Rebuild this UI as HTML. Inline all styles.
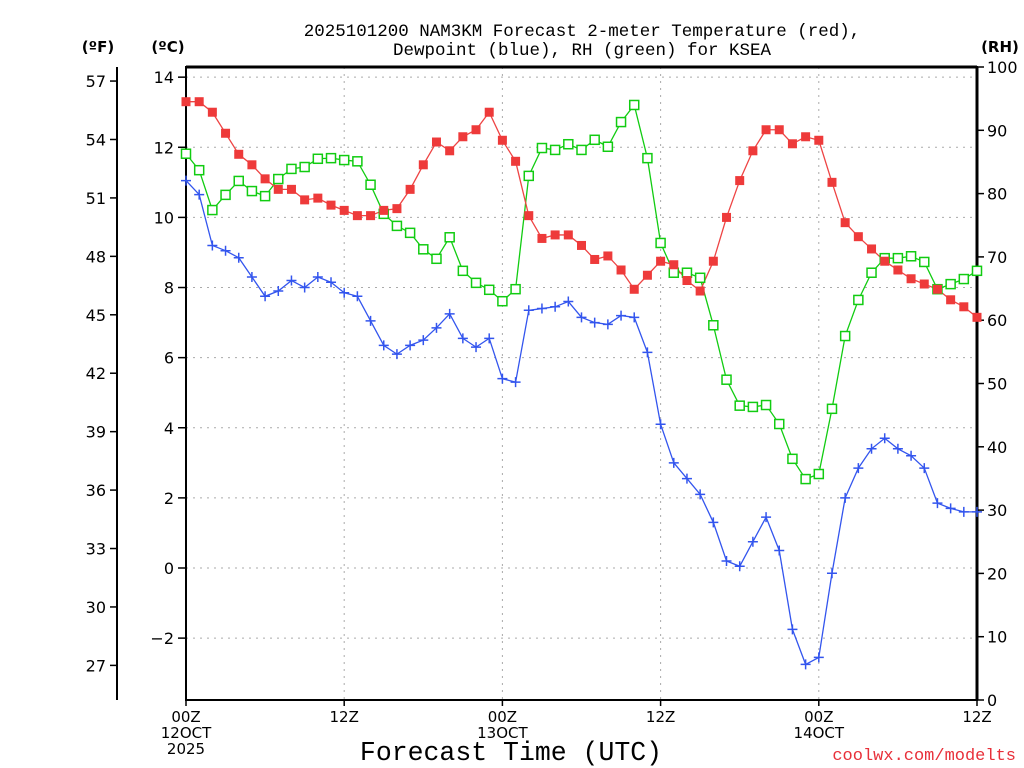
<!DOCTYPE html>
<html><head><meta charset="utf-8"><style>
body{margin:0;background:#fff;}
svg{display:block;font-family:"DejaVu Sans","Liberation Sans",sans-serif;}
.mono{font-family:"Liberation Mono","DejaVu Sans Mono",monospace;}
</style></head><body>
<svg id="chart" width="1024" height="768" viewBox="0 0 1024 768">
<g>
<text class="mono" x="582" y="36" text-anchor="middle" font-size="17.5">2025101200 NAM3KM Forecast 2-meter Temperature (red),</text>
<text class="mono" x="582" y="55" text-anchor="middle" font-size="17.5">Dewpoint (blue), RH (green) for KSEA</text>
</g>
<text x="98" y="52" text-anchor="middle" font-size="15" font-weight="bold">(ºF)</text>
<text x="168" y="52" text-anchor="middle" font-size="15" font-weight="bold">(ºC)</text>
<text x="1000" y="52" text-anchor="middle" font-size="15" font-weight="bold">(RH)</text>
<g id="grid"></g>
<g id="axes"></g>
<g id="series"></g>
<text class="mono" x="511" y="760" text-anchor="middle" font-size="26.5">Forecast Time (UTC)</text>
<text class="mono" x="1016" y="760" text-anchor="end" font-size="17" fill="#e8303a">coolwx.com/modelts</text>
</svg>
<script>
const hours = Array.from({length:61},(_,i)=>i);
const tempC = [13.3,13.3,13.0,12.4,11.8,11.5,11.1,10.8,10.8,10.5,10.55,10.35,10.2,10.05,10.05,10.2,10.25,10.8,11.5,12.15,11.9,12.3,12.5,13.0,12.2,11.6,10.05,9.4,9.5,9.5,9.2,8.8,8.9,8.5,7.95,8.35,8.75,8.65,8.2,7.9,8.75,10.0,11.05,11.9,12.5,12.5,12.1,12.3,12.2,11.0,9.85,9.45,9.1,8.75,8.5,8.25,8.1,7.95,7.65,7.45,7.15];
const dewC = [11.05,10.65,9.2,9.05,8.85,8.3,7.75,7.9,8.2,8.0,8.3,8.15,7.85,7.75,7.05,6.35,6.1,6.35,6.5,6.85,7.25,6.55,6.3,6.55,5.4,5.3,7.35,7.4,7.45,7.6,7.15,7.0,6.95,7.2,7.15,6.15,4.1,3.0,2.55,2.1,1.3,0.2,0.05,0.75,1.45,0.5,-1.75,-2.75,-2.55,-0.15,2.0,2.85,3.4,3.7,3.4,3.2,2.85,1.85,1.7,1.6,1.6];
const rh = [86.3,83.7,77.4,79.8,82,80.4,79.6,82.3,83.9,84.2,85.5,85.6,85.3,85.1,81.4,76.8,74.9,73.8,71.2,69.7,73.1,67.8,65.9,64.8,63.0,64.9,82.8,87.2,86.9,87.8,86.9,88.5,87.4,91.3,94.0,85.6,72.2,67.5,67.5,66.7,59.2,50.6,46.5,46.3,46.6,43.6,38.1,34.9,35.7,46.0,57.5,63.2,67.5,69.8,69.8,70.1,69.2,64.9,65.7,66.5,67.8];
const cTicks = [-2,0,2,4,6,8,10,12,14];
const fTicks = [27,30,33,36,39,42,45,48,51,54,57];
const rhTicks = [0,10,20,30,40,50,60,70,80,90,100];
const xTickHours = [0,12,24,36,48,60];
const xTickLabels = [["00Z","12OCT","2025"],["12Z"],["00Z","13OCT"],["12Z"],["00Z","14OCT"],["12Z"]];

const X0=186,X1=977,Y0=67,Y1=700;
const xs=h=>X0+(X1-X0)*h/60;
const yc=c=>568-35.06*c;
const yf=f=>yc((f-32)*5/9);
const yr=r=>Y1-(Y1-Y0)*r/100;
const NS="http://www.w3.org/2000/svg";
function mk(tag,attrs,parent){const e=document.createElementNS(NS,tag);for(const k in attrs)e.setAttribute(k,attrs[k]);parent.appendChild(e);return e;}
const grid=document.getElementById('grid'),axes=document.getElementById('axes'),ser=document.getElementById('series');

cTicks.forEach(c=>{
  const l=mk('line',{x1:X0,x2:X1,y1:yc(c),y2:yc(c),stroke:'#aaa','stroke-dasharray':'2,5'},grid);
  
  
  const t=mk('line',{x1:X0-8,x2:X0,y1:yc(c),y2:yc(c),stroke:'#000','stroke-width':1.5},axes);
  
  
  const tx=mk('text',{x:X0-12,y:yc(c)+6,'text-anchor':'end','font-size':16},axes);
  tx.textContent=c<0?'\u2212'+(-c):c;
  
  
});
xTickHours.forEach((h,i)=>{
  if(h>0&&h<60){const l=mk('line',{x1:xs(h),x2:xs(h),y1:Y0,y2:Y1,stroke:'#aaa','stroke-dasharray':'2,5'},grid);
  
  }
  const t=mk('line',{x1:xs(h),x2:xs(h),y1:Y1,y2:Y1+6,stroke:'#000','stroke-width':1.5},axes);
  
  
  xTickLabels[i].forEach((s,j)=>{
    const tx=mk('text',{x:xs(h),y:Y1+22+j*16,'text-anchor':'middle','font-size':15},axes);
    tx.textContent=s;
    
    
  });
});
fTicks.forEach(f=>{
  const t=mk('line',{x1:110,x2:117,y1:yf(f),y2:yf(f),stroke:'#000','stroke-width':1.5},axes);
  
  
  const tx=mk('text',{x:106,y:yf(f)+6,'text-anchor':'end','font-size':16},axes);
  tx.textContent=f;
  
  
});
rhTicks.forEach(r=>{
  const t=mk('line',{x1:X1,x2:X1+7,y1:yr(r),y2:yr(r),stroke:'#000','stroke-width':1.5},axes);
  
  
  const tx=mk('text',{x:X1+10,y:yr(r)+6,'text-anchor':'start','font-size':16},axes);
  tx.textContent=r;
  
  
});
let a=mk('line',{x1:117,x2:117,y1:Y0,y2:Y1,stroke:'#000','stroke-width':2},axes);


a=mk('rect',{x:X0,y:Y0,width:X1-X0,height:Y1-Y0,fill:'none',stroke:'#000','stroke-width':2},axes);


a=mk('line',{x1:X0,x2:X1,y1:Y0,y2:Y0,stroke:'#000','stroke-width':3},axes);


a=mk('line',{x1:X1,x2:X1,y1:Y0,y2:Y1,stroke:'#000','stroke-width':3},axes);



function line(vals,yfn,color,name){
  const p=mk('polyline',{points:vals.map((v,i)=>xs(hours[i])+','+yfn(v)).join(' '),fill:'none',stroke:color,'stroke-width':1.3},ser);
  
  
}
line(rh,yr,'#11cc11','rh-line');
line(tempC,yc,'#ee4444','temperature-line');
line(dewC,yc,'#3355ee','dewpoint-line');
rh.forEach((v,i)=>{const m=mk('rect',{x:xs(hours[i])-4.5,y:yr(v)-4.5,width:9,height:9,fill:'#fff',stroke:'#11cc11','stroke-width':1.5},ser);
  
  });
tempC.forEach((v,i)=>{const m=mk('rect',{x:xs(hours[i])-4.5,y:yc(v)-4.5,width:9,height:9,fill:'#ee3a3a'},ser);
  
  });
dewC.forEach((v,i)=>{const x=xs(hours[i]),y=yc(v);
  const m=mk('path',{d:`M${x-5},${y}H${x+5}M${x},${y-5}V${y+5}`,stroke:'#3355ee','stroke-width':1.5},ser);
  
  });
</script>
</body></html>
